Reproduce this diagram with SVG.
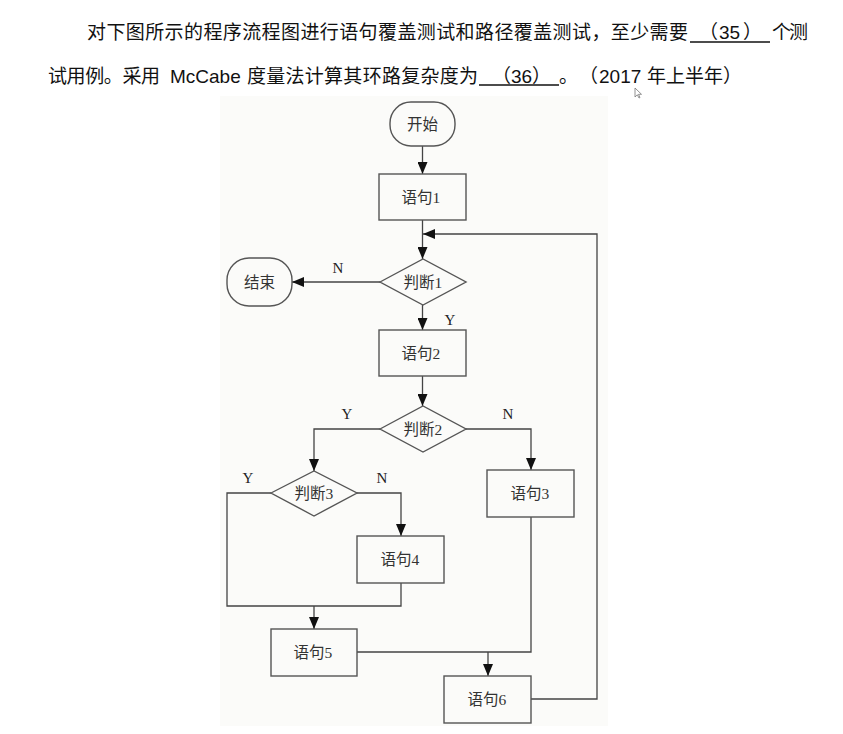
<svg xmlns="http://www.w3.org/2000/svg" width="843" height="734" viewBox="0 0 843 734">
<style>
.hd{font-family:"Noto Sans CJK SC","Liberation Sans",sans-serif;font-size:19px;fill:#111}
.lat{font-family:"Liberation Sans",Arial,sans-serif;font-size:19px;fill:#111}
.ul{stroke:#111;stroke-width:1.3}
.box{fill:none;stroke:#555;stroke-width:1.4}
.nt{font-family:"Liberation Serif","Noto Sans CJK SC",serif;font-size:15.5px;fill:#333;text-anchor:middle;dominant-baseline:central}
.lb{font-family:"Liberation Serif",serif;font-size:15px;fill:#222;text-anchor:middle;dominant-baseline:central}
.cn{fill:none;stroke:#444;stroke-width:1.3}
</style>
<defs>
<marker id="ah" viewBox="0 0 12 10" refX="12" refY="5" markerWidth="12" markerHeight="10" orient="auto" markerUnits="userSpaceOnUse"><path d="M0,0 L12,5 L0,10 z" fill="#111"/></marker>
</defs>
<rect width="843" height="734" fill="#ffffff"/>
<g id="header">
<text class="hd" x="87" y="39" textLength="601" lengthAdjust="spacing">对下图所示的程序流程图进行语句覆盖测试和路径覆盖测试，至少需要</text>
<line class="ul" x1="690" y1="42" x2="770" y2="42"/>
<text class="hd" x="699" y="39">（</text>
<text class="lat" x="719" y="39">35</text>
<text class="hd" x="743" y="39">）</text>
<text class="hd" x="772" y="39" textLength="36" lengthAdjust="spacing">个测</text>
<text class="hd" x="48" y="82.5" textLength="112" lengthAdjust="spacing">试用例。采用</text>
<text class="lat" x="170" y="82.5">McCabe</text>
<text class="hd" x="247" y="82.5" textLength="231" lengthAdjust="spacing">度量法计算其环路复杂度为</text>
<line class="ul" x1="479" y1="85" x2="559" y2="85"/>
<text class="hd" x="492" y="82.5">（</text>
<text class="lat" x="511" y="82.5">36</text>
<text class="hd" x="532" y="82.5">）</text>
<text class="hd" x="559" y="82.5">。</text>
<text class="hd" x="579" y="82.5">（</text>
<text class="lat" x="599" y="82.5">2017</text>
<text class="hd" x="647" y="82.5" textLength="76" lengthAdjust="spacing">年上半年</text>
<text class="hd" x="723" y="82.5">）</text>
<path d="M635,88 L635,97 L637.3,94.8 L639,98 L640,97.5 L638.5,94.3 L641.5,94.3 Z" fill="#fff" stroke="#777" stroke-width="0.8"/>
</g>
<rect x="220" y="96" width="388" height="630" fill="#fbfbf9"/>
<g id="connectors">
<line class="cn" x1="422.5" y1="146" x2="422.5" y2="174" marker-end="url(#ah)"/>
<line class="cn" x1="422.5" y1="220" x2="422.5" y2="259" marker-end="url(#ah)"/>
<path class="cn" d="M531,699 H597 V234 H423" marker-end="url(#ah)"/>
<line class="cn" x1="380" y1="282" x2="292" y2="282" marker-end="url(#ah)"/>
<line class="cn" x1="422.5" y1="305" x2="422.5" y2="330" marker-end="url(#ah)"/>
<line class="cn" x1="422.5" y1="376" x2="422.5" y2="406" marker-end="url(#ah)"/>
<path class="cn" d="M380,429 H314 V471" marker-end="url(#ah)"/>
<path class="cn" d="M466,429 H531 V470" marker-end="url(#ah)"/>
<path class="cn" d="M357,493 H401 V536" marker-end="url(#ah)"/>
<path class="cn" d="M271,493 H227 V606 H401 V583"/>
<line class="cn" x1="314" y1="606" x2="314" y2="629" marker-end="url(#ah)"/>
<path class="cn" d="M357,652 H531 V517"/>
<line class="cn" x1="488" y1="652" x2="488" y2="676" marker-end="url(#ah)"/>
<text class="lb" x="338" y="268">N</text>
<text class="lb" x="450" y="320">Y</text>
<text class="lb" x="347" y="414">Y</text>
<text class="lb" x="508" y="414">N</text>
<text class="lb" x="248" y="478">Y</text>
<text class="lb" x="382" y="478">N</text>
</g>
<g id="start">
<rect class="box" x="390" y="102" width="65" height="44" rx="21" fill="#fdfdfc"/>
<text class="nt" x="422.5" y="124">开始</text>
</g>
<g id="s1">
<rect class="box" x="379" y="174" width="87" height="46"/>
<text class="nt" x="421" y="197">语句1</text>
</g>
<g id="d1">
<polygon class="box" points="380,282 423,259 466,282 423,305"/>
<text class="nt" x="423" y="282">判断1</text>
</g>
<g id="end">
<rect class="box" x="227" y="258" width="65" height="48" rx="22"/>
<text class="nt" x="259.5" y="282">结束</text>
</g>
<g id="s2">
<rect class="box" x="379" y="330" width="87" height="46"/>
<text class="nt" x="421" y="353">语句2</text>
</g>
<g id="d2">
<polygon class="box" points="380,429 423,406 466,429 423,452"/>
<text class="nt" x="423" y="429">判断2</text>
</g>
<g id="d3">
<polygon class="box" points="271,493 314,471 357,493 314,516"/>
<text class="nt" x="314" y="493">判断3</text>
</g>
<g id="s3">
<rect class="box" x="487" y="470" width="87" height="47"/>
<text class="nt" x="530" y="493.5">语句3</text>
</g>
<g id="s4">
<rect class="box" x="357" y="536" width="87" height="47"/>
<text class="nt" x="400" y="559.5">语句4</text>
</g>
<g id="s5">
<rect class="box" x="271" y="629" width="86" height="47"/>
<text class="nt" x="313" y="652.5">语句5</text>
</g>
<g id="s6">
<rect class="box" x="444" y="676" width="87" height="47"/>
<text class="nt" x="487" y="699.5">语句6</text>
</g>
</svg>
